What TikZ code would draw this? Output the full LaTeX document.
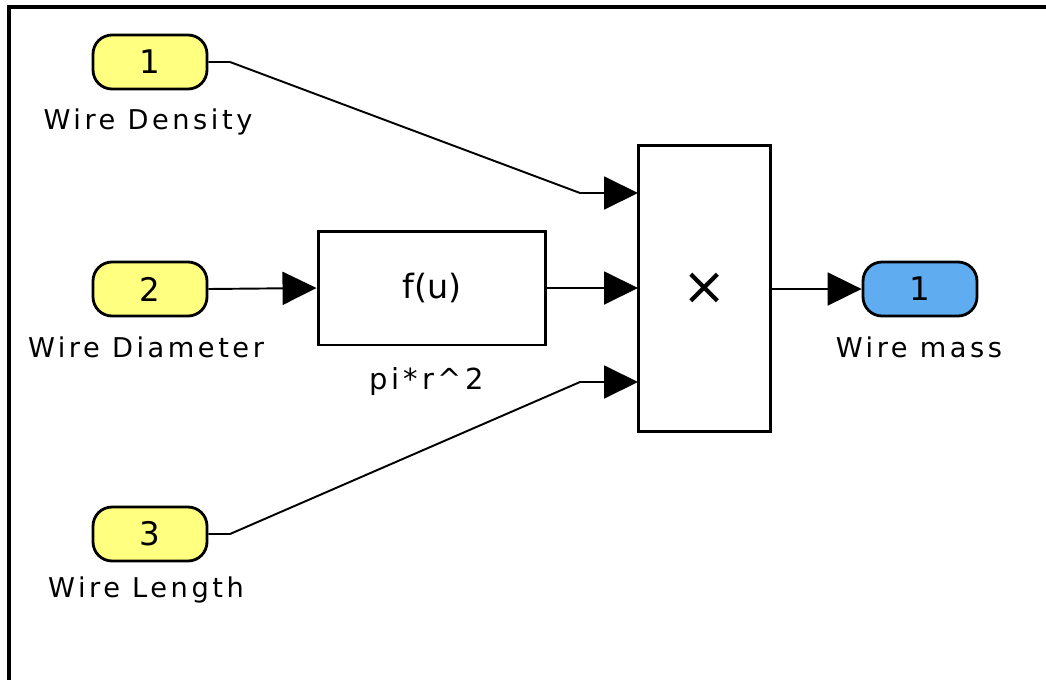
\documentclass[tikz,border=0pt]{standalone}
\usepackage{fontspec}
\setmainfont{DejaVu Sans}
\usetikzlibrary{arrows.meta}
\newfontfamily\labelfont[LetterSpace=13]{DejaVu Sans}
\newfontfamily\iconfont{DejaVu Sans}
\definecolor{inportyellow}{RGB}{255,255,128}
\definecolor{outportblue}{RGB}{96,172,240}
\tikzset{
  port/.style={draw=black, line width=1.6pt, rounded corners=0.38cm,
    minimum width=2.28cm, minimum height=1.08cm, inner sep=0pt,
    font=\iconfont\fontsize{18.5}{20}\selectfont},
  inport/.style={port, fill=inportyellow},
  outport/.style={port, fill=outportblue},
  blockbox/.style={draw=black, line width=1.7pt, fill=white, inner sep=0pt},
  blocklabel/.style={inner sep=0pt, font=\labelfont\fontsize{15.5}{18}\selectfont},
  signal/.style={line width=1.1pt,
    -{Triangle[length=0.68cm, width=0.66cm]}},
  frameline/.style={line width=1.9pt}
}
\begin{document}
\begin{tikzpicture}[x=0.02cm, y=-0.02cm]
  \useasboundingbox (0,0) rectangle (1046,680);
  % window edges
  \draw[frameline] (9,680) -- (9,7) -- (1046,7);

  % inports
  \node[inport] (in1) at (150,62) {1};
  \node[blocklabel] (in1lab) at (148,122) {Wire Density};
  \node[inport] (in2) at (150,289) {2};
  \node[blocklabel] (in2lab) at (146,347) {Wire Diameter};
  \node[inport] (in3) at (150,534) {3};
  \node[blocklabel] (in3lab) at (146,590) {Wire Length};

  % function block
  \node[blockbox, minimum width=4.56cm, minimum height=2.28cm,
        font=\iconfont\fontsize{19}{20}\selectfont] (fcn) at (432,288) {f(u)};
  \node[blocklabel, font=\labelfont\fontsize{16.5}{18}\selectfont] (fcnlab) at (427,381) {pi*r\^{}2};

  % product block
  \node[blockbox, minimum width=2.66cm, minimum height=5.74cm,
        font=\iconfont\fontsize{30}{30}\selectfont] (prod) at (704.5,288.5) {×};
  \coordinate (p1) at (638,193);
  \coordinate (p2) at (638,288);
  \coordinate (p3) at (638,382);

  % outport
  \node[outport] (out1) at (920,289) {1};
  \node[blocklabel] (outlab) at (919,347) {Wire mass};

  % bend points
  \coordinate (b1a) at (230,62);
  \coordinate (b1b) at (580,193);
  \coordinate (b3a) at (230,534);
  \coordinate (b3b) at (580,382);

  % signals
  \draw[signal] (in1.east) -- (b1a) -- (b1b) -- (p1);
  \draw[signal] (in2.east) -- (fcn.west);
  \draw[signal] (fcn.east) -- (p2);
  \draw[signal] (in3.east) -- (b3a) -- (b3b) -- (p3);
  \draw[signal] (prod.east |- out1) -- (out1.west);
\end{tikzpicture}
\end{document}
